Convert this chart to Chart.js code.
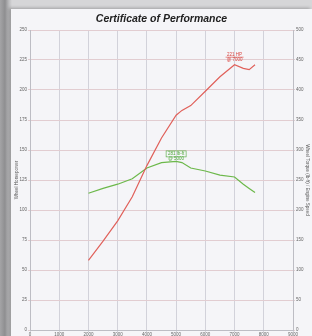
<!DOCTYPE html>
<html>
<head>
<meta charset="utf-8">
<script src="https://cdn.jsdelivr.net/npm/chart.js@4.4.0/dist/chart.umd.min.js"></script>
<style>
  html, body { margin: 0; padding: 0; width: 312px; height: 336px; overflow: hidden; }
  body { background: linear-gradient(90deg, #a4a4a6 0px, #8e8e90 5px, #bdbdbf 9px, #d6d6d8 12px); }
  #paper { position: absolute; left: 11px; top: 9px; width: 301px; height: 340px; background: #f5f5f8;
           box-shadow: -2px -1px 3px rgba(0,0,0,0.25); }
  canvas { filter: blur(0.45px); }
</style>
</head>
<body>
<div id="paper"><canvas id="dyno" width="301" height="340"></canvas></div>
<script>
// dyno run, values
const rpm = [2000, 2500, 3000, 3500, 4000, 4500, 5000, 5200, 5500, 6000, 6500, 7000, 7300, 7500, 7700];
const power = [58, 74, 91, 111, 137, 160, 179, 183, 187, 199, 211, 221, 218, 217, 221];
const torque = [228, 236, 243, 252, 270, 279, 281, 279, 270, 265, 258, 255, 243, 236, 229];
const xTicks = ['0', '1000', '2000', '3000', '4000', '5000', '6000', '7000', '8000', '9000'];
const hpTicks = ['0', '25', '50', '75', '100', '125', '150', '175', '200', '225', '250'];
const tqTicks = ['0', '50', '100', '150', '200', '250', '300', '350', '400', '450', '500'];

const tiny = { family: 'Liberation Sans', size: 4.5 };

// small peak notes next to each curve
const peakNotes = {
  id: 'peakNotes',
  afterDatasetsDraw(chart) {
    const ctx = chart.ctx;
    const x = chart.scales.x;
    const hpMax = Math.max(...power);
    const tqMax = Math.max(...torque);
    const hpAt = rpm[power.indexOf(hpMax)];
    const tqAt = rpm[torque.indexOf(tqMax)];
    ctx.save();
    ctx.font = '4.5px "Liberation Sans"';
    ctx.textAlign = 'center';
    ctx.textBaseline = 'middle';

    let px = x.getPixelForValue(hpAt);
    let py = chart.scales.y.getPixelForValue(hpMax);
    ctx.fillStyle = '#d9443f';
    ctx.fillText(hpMax + ' HP', px, py - 10);
    ctx.fillText('@ ' + hpAt, px, py - 5.5);
    ctx.strokeStyle = '#d9443f';
    ctx.lineWidth = 0.6;
    ctx.beginPath(); ctx.moveTo(px - 9, py - 7.6); ctx.lineTo(px + 9, py - 7.6); ctx.stroke();

    px = x.getPixelForValue(tqAt);
    py = chart.scales.y1.getPixelForValue(tqMax);
    ctx.fillStyle = '#4fa83a';
    ctx.fillText(tqMax + ' lb-ft', px, py - 7.5);
    ctx.fillText('@ ' + tqAt, px, py - 2.5);
    ctx.strokeStyle = '#4fa83a';
    ctx.strokeRect(px - 10, py - 10.5, 20, 6);
    ctx.restore();
  }
};

new Chart(document.getElementById('dyno'), {
  type: 'line',
  data: {
    labels: rpm,
    datasets: [
      { label: 'Power', data: power, yAxisID: 'y', borderColor: '#e0605a', borderWidth: 1.2, pointRadius: 0, tension: 0 },
      { label: 'Torque', data: torque, yAxisID: 'y1', borderColor: '#6cb84a', borderWidth: 1.2, pointRadius: 0, tension: 0 }
    ]
  },
  options: {
    responsive: false,
    animation: false,
    devicePixelRatio: 1,
    layout: { padding: 0 },
    plugins: {
      legend: { display: false },
      tooltip: { enabled: false },
      title: {
        display: true,
        text: 'Certificate of Performance',
        color: '#222',
        font: { family: 'Liberation Sans', size: 10.5, weight: 'bold', style: 'italic' },
        padding: { top: 3.7, bottom: 4.7 }
      }
    },
    scales: {
      x: {
        type: 'linear', min: 0, max: 9000,
        ticks: { stepSize: 1000, color: '#666', font: tiny, padding: 0, maxRotation: 0,
                 callback: (v) => xTicks[Math.round(v / 1000)] },
        grid: { color: '#d2d2da', tickLength: 2 },
        border: { color: '#bdbdc4' },
        afterFit: (s) => { s.height = 19; }
      },
      y: {
        position: 'left', min: 0, max: 250,
        ticks: { stepSize: 25, color: '#666', font: tiny, padding: 1,
                 callback: (v) => hpTicks[Math.round(v / 25)] },
        grid: { color: '#e2cdd1', tickLength: 2 },
        border: { color: '#bdbdc4' },
        title: { display: true, text: 'Wheel Horsepower', color: '#555', font: tiny, padding: { top: 3, bottom: 0 } },
        afterFit: (s) => { s.width = 19; }
      },
      y1: {
        position: 'right', min: 0, max: 500,
        ticks: { stepSize: 50, color: '#666', font: tiny, padding: 1,
                 callback: (v) => tqTicks[Math.round(v / 50)] },
        grid: { drawOnChartArea: false, color: '#e2cdd1', tickLength: 2 },
        border: { color: '#bdbdc4' },
        title: { display: true, text: 'Wheel Torque (lb-ft) / Engine Speed', color: '#555', font: tiny, padding: { top: 2, bottom: 0 } },
        afterFit: (s) => { s.width = 19; }
      }
    }
  },
  plugins: [peakNotes]
});
</script>
</body>
</html>
